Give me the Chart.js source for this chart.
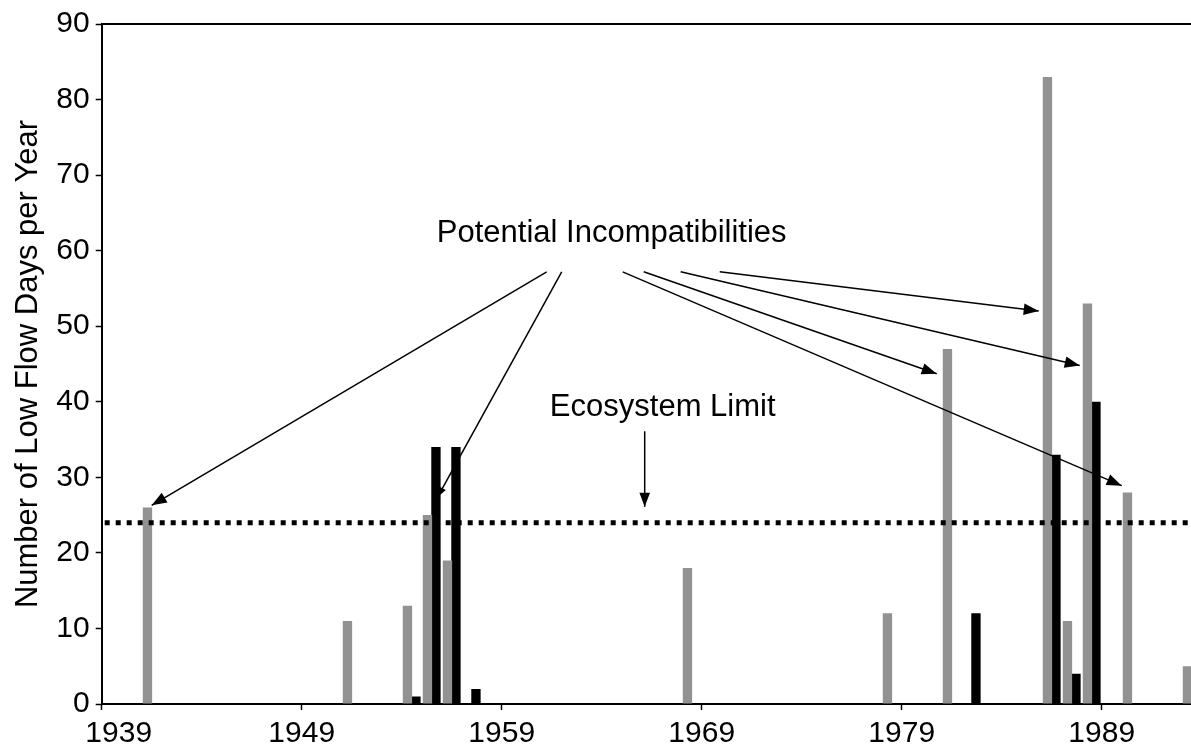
<!DOCTYPE html>
<html>
<head>
<meta charset="utf-8">
<script src="https://cdn.jsdelivr.net/npm/chart.js@4.4.0/dist/chart.umd.min.js"></script>
<style>
  html, body { margin: 0; padding: 0; background: #fff; overflow: hidden; }
  #wrap { width: 1191px; height: 748px; overflow: hidden; }
  canvas { display: block; }
</style>
</head>
<body>
<div id="wrap"><canvas id="lowFlowChart" width="1210" height="748"></canvas></div>
<script>
// category axis runs one slot per year
const firstYear = 1939;
const lastYear = 1993;
const tickYears = [1939, 1949, 1959, 1969, 1979, 1989];

// grey bars
const greyYears = [1941, 1951, 1954, 1955, 1956, 1968, 1978, 1981, 1986, 1987, 1988, 1990, 1993];
const greyDays = [26, 11, 13, 25, 19, 18, 12, 47, 83, 11, 53, 28, 5];

// black bars
const blackYears = [1954, 1955, 1956, 1957, 1982, 1986, 1987, 1988, 1993];
const blackDays = [1, 34, 34, 2, 12, 33, 4, 40, 2];

const ecosystemLimit = 24;

const FONT = '"Liberation Sans", Arial, Helvetica, sans-serif';

const years = [];
for (let y = firstYear; y <= lastYear; y++) years.push(String(y));

function toSeries(ys, vals) {
  return years.map(y => {
    const i = ys.indexOf(Number(y));
    return i < 0 ? null : vals[i];
  });
}

// text, dotted limit line and arrows, placed in year / value units
const annotations = {
  id: 'annotations',
  afterDraw(chart) {
    const ctx = chart.ctx;
    const area = chart.chartArea;
    const X = yr => chart.scales.x2.getPixelForValue(yr);
    const Y = v => chart.scales.y.getPixelForValue(v);

    function arrow(x1, v1, x2, v2, head) {
      const ax = X(x1), ay = Y(v1), bx = X(x2), by = Y(v2);
      ctx.beginPath();
      ctx.moveTo(ax, ay);
      ctx.lineTo(bx, by);
      ctx.stroke();
      const a = Math.atan2(by - ay, bx - ax);
      const w = head * 0.38;
      ctx.beginPath();
      ctx.moveTo(bx, by);
      ctx.lineTo(bx - head * Math.cos(a) + w * Math.sin(a), by - head * Math.sin(a) - w * Math.cos(a));
      ctx.lineTo(bx - head * Math.cos(a) - w * Math.sin(a), by - head * Math.sin(a) + w * Math.cos(a));
      ctx.closePath();
      ctx.fill();
    }

    ctx.save();
    ctx.strokeStyle = '#000';
    ctx.fillStyle = '#000';

    // top frame line
    ctx.lineWidth = 2;
    ctx.beginPath();
    ctx.moveTo(area.left, area.top);
    ctx.lineTo(area.right, area.top);
    ctx.stroke();

    // ecosystem limit
    ctx.lineWidth = 5;
    ctx.setLineDash([5, 6]);
    ctx.beginPath();
    ctx.moveTo(area.left + 3, Y(ecosystemLimit));
    ctx.lineTo(area.right, Y(ecosystemLimit));
    ctx.stroke();
    ctx.setLineDash([]);

    ctx.font = '31px ' + FONT;
    ctx.textAlign = 'center';
    ctx.textBaseline = 'middle';
    ctx.fillText('Potential Incompatibilities', X(1964.5), Y(62.3));
    ctx.fillText('Ecosystem Limit', X(1967.05), Y(39.2));

    ctx.lineWidth = 1.5;
    arrow(1961.25, 57.2, 1941.5, 26.3, 15);
    arrow(1962.0, 57.2, 1955.8, 27.4, 10);
    arrow(1965.05, 57.2, 1990.0, 28.9, 15);
    arrow(1966.1, 57.2, 1980.75, 43.7, 15);
    arrow(1967.95, 57.2, 1987.9, 44.8, 15);
    arrow(1969.9, 57.2, 1985.85, 52.0, 15);
    arrow(1966.15, 36.1, 1966.15, 26.1, 14);

    // x tick labels (first one sits right of its tick, as in the print)
    ctx.font = '30px ' + FONT;
    tickYears.forEach((yr, i) => {
      ctx.fillText(String(yr), X(yr) + (i === 0 ? 17 : 0), area.bottom + 30);
    });
    ctx.restore();
  }
};

new Chart(document.getElementById('lowFlowChart'), {
  type: 'bar',
  data: {
    labels: years,
    datasets: [{
      label: 'Grey',
      data: toSeries(greyYears, greyDays),
      backgroundColor: '#929292',
      borderWidth: 0,
      categoryPercentage: 0.85,
      barPercentage: 1.1
    }, {
      label: 'Black',
      data: toSeries(blackYears, blackDays),
      backgroundColor: '#000000',
      borderWidth: 0,
      categoryPercentage: 0.85,
      barPercentage: 1.1
    }]
  },
  options: {
    responsive: false,
    animation: false,
    devicePixelRatio: 1,
    layout: { padding: { top: 17, right: 8.3, left: 0, bottom: 0 } },
    plugins: { legend: { display: false }, tooltip: { enabled: false } },
    scales: {
      x: { display: false, offset: true },
      x2: {
        type: 'linear',
        position: 'bottom',
        offset: false,
        min: firstYear,
        max: lastYear + 1,
        afterBuildTicks: s => { s.ticks = tickYears.map(v => ({ value: v })); },
        ticks: { callback: () => '', padding: 0 },
        grid: { offset: false, drawOnChartArea: false, tickLength: 6, tickColor: '#000', tickWidth: 1.5 },
        border: { color: '#000', width: 2 },
        afterFit: s => { s.height = 44; }
      },
      y: {
        min: 0,
        max: 90,
        ticks: { stepSize: 10, color: '#000', font: { size: 30, family: FONT }, padding: 6 },
        grid: { drawOnChartArea: false, tickLength: 6, tickColor: '#000', tickWidth: 1.5 },
        border: { color: '#000', width: 2 },
        title: {
          display: true,
          text: 'Number of Low Flow Days per Year',
          color: '#000',
          font: { size: 31, family: FONT },
          padding: { top: 10, bottom: 0 }
        },
        afterFit: s => { s.width = 101.7; }
      }
    }
  },
  plugins: [annotations]
});
</script>
</body>
</html>
